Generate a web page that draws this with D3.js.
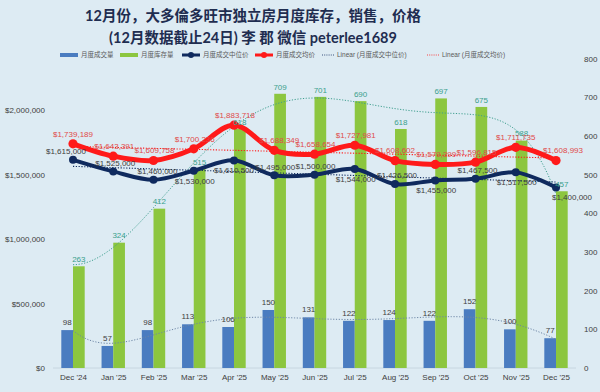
<!DOCTYPE html>
<html><head><meta charset="utf-8">
<script src="https://cdn.jsdelivr.net/npm/d3@7"></script>
<style>
body{margin:0;background:#ddebf3;}
svg{display:block;}
</style></head>
<body>
<svg id="chart" width="600" height="392"></svg>
<script>
// ---------- DATA ----------
const categories = ["Dec '24","Jan '25","Feb '25","Mar '25","Apr '25","May '25","Jun '25","Jul '25","Aug '25","Sep '25","Oct '25","Nov '25","Dec '25"];
const salesVolume = [98,57,98,113,106,150,131,122,124,122,152,100,77];
const inventory = [263,324,412,515,618,709,701,690,618,697,675,588,457];
const medianPrice = [1615000,1525000,1460000,1530000,1610500,1495000,1500000,1544000,1426500,1455000,1467500,1517500,1400000];
const avgPrice = [1739189,1643391,1609758,1700236,1883718,1688349,1658654,1727981,1608602,1579399,1596815,1711735,1608993];
const leftTicks = [0,500000,1000000,1500000,2000000];
const rightTicks = [0,100,200,300,400,500,600,700,800];
const titleLines = ["12月份，大多倫多旺市独立房月度库存，销售，价格","(12月数据截止24日) 李 郡  微信 peterlee1689"];
const legendLabels = ["月度成交量","月度库存量","月度成交中位价","月度成交均价","Linear (月度成交中位价)","Linear (月度成交均价)"];

// ---------- STYLE / LABEL PLACEMENT ----------
const medianLabelSide = ["above","above","above","below","below","above","above","below","above","below","above","below","below"];
const medianLabelDx = [-7,2,4,1,0,1,1,1,2,1,2,1,16];
const avgLabelDx = [0,1,1,1,1,5,1,1,0,1,1,0,7];

const C = {
  bg:"#ddebf3", blue:"#4a7cc0", green:"#8cc63f", navy:"#0f2a5e", red:"#ff1a1a",
  text:"#404040", title:"#1f2d50", invLabel:"#3a9f8c", avgLabel:"#e04a4a",
  invTrend:"#3f9f8f", salesTrend:"#6d86a6"
};
const FONT = "'Liberation Sans', 'Noto Sans CJK SC', sans-serif";
const CJK = "Lato, 'Noto Sans CJK SC', sans-serif";

const svg = d3.select("#chart");
svg.append("rect").attr("width",600).attr("height",392).attr("fill",C.bg);

// ---------- SCALES ----------
const x = d3.scalePoint().domain(categories).range([73,556]);
const xi = d3.scaleLinear().domain([0,categories.length-1]).range([73,556]);
const yL = d3.scaleLinear().domain([0,2400000]).range([368,58.6]);
const yR = d3.scaleLinear().domain([0,800]).range([368,58.6]);
const barW = 11.7;

// ---------- TITLE ----------
svg.append("g").selectAll("text").data(titleLines).join("text")
  .attr("x",253).attr("y",(d,i)=>21+i*22).attr("text-anchor","middle")
  .attr("font-family",CJK).attr("font-weight","bold").attr("font-size",14.5)
  .attr("fill",C.title).text(d=>d);

// ---------- AXES ----------
svg.append("line").attr("x1",53).attr("x2",576).attr("y1",368).attr("y2",368)
  .attr("stroke","#c3d1da").attr("stroke-width",0.8);

const gL = svg.append("g").attr("transform","translate(49,0)")
  .call(d3.axisLeft(yL).tickValues(leftTicks).tickSize(0).tickPadding(4)
    .tickFormat(d=>"$"+d3.format(",")(d)));
const gR = svg.append("g").attr("transform","translate(580,0)")
  .call(d3.axisRight(yR).tickValues(rightTicks).tickSize(0).tickPadding(4));
const gB = svg.append("g").attr("transform","translate(0,368)")
  .call(d3.axisBottom(x).tickSize(0).tickPadding(6));
[gL,gR,gB].forEach(g=>{
  g.select(".domain").remove();
  g.selectAll("text").attr("fill",C.text).attr("font-family",FONT).attr("font-size",8);
});

// ---------- BARS ----------
svg.append("g").selectAll("rect").data(salesVolume).join("rect")
  .attr("x",(d,i)=>x(categories[i])-barW).attr("width",barW)
  .attr("y",d=>yR(d)).attr("height",d=>yR(0)-yR(d)).attr("fill",C.blue);
svg.append("g").selectAll("rect").data(inventory).join("rect")
  .attr("x",(d,i)=>x(categories[i])).attr("width",barW)
  .attr("y",d=>yR(d)).attr("height",d=>yR(0)-yR(d)).attr("fill",C.green);

// ---------- TRENDLINES ----------
function polyfit(ys,deg){
  const n=ys.length, m=deg+1;
  const t=i=>(i-(n-1)/2)/((n-1)/2);
  const A=Array.from({length:m},()=>Array(m+1).fill(0));
  ys.forEach((y,i)=>{
    const tv=t(i);
    for(let r=0;r<m;r++){
      for(let c=0;c<m;c++) A[r][c]+=Math.pow(tv,r+c);
      A[r][m]+=y*Math.pow(tv,r);
    }
  });
  for(let col=0;col<m;col++){
    let p=col;
    for(let r=col+1;r<m;r++) if(Math.abs(A[r][col])>Math.abs(A[p][col])) p=r;
    [A[col],A[p]]=[A[p],A[col]];
    for(let r=0;r<m;r++){
      if(r===col) continue;
      const f=A[r][col]/A[col][col];
      for(let c=col;c<=m;c++) A[r][c]-=f*A[col][c];
    }
  }
  const coef=A.map((row,r)=>row[m]/row[r]);
  return i=>{const tv=t(i);return coef.reduce((s,c,k)=>s+c*Math.pow(tv,k),0);};
}
const samples = d3.range(0,categories.length-1+0.001,0.1);
function trend(values,deg,yScale,color,width){
  const f=polyfit(values,deg);
  svg.append("path").datum(samples)
    .attr("d",d3.line().x(s=>xi(s)).y(s=>yScale(f(s))))
    .attr("fill","none").attr("stroke",color).attr("stroke-width",width)
    .attr("stroke-dasharray","1.2,1.6");
}
trend(inventory,6,yR,C.invTrend,1);
trend(salesVolume,6,yR,C.salesTrend,1);
trend(medianPrice,1,yL,C.navy,1.1);
trend(avgPrice,1,yL,C.red,1.1);

// ---------- LINES ----------
function series(values,color,w,r){
  svg.append("path").datum(values)
    .attr("d",d3.line().x((d,i)=>x(categories[i])).y(d=>yL(d)).curve(d3.curveCatmullRom.alpha(0.5)))
    .attr("fill","none").attr("stroke",color).attr("stroke-width",w).attr("stroke-linejoin","round");
  svg.append("g").selectAll("circle").data(values).join("circle")
    .attr("cx",(d,i)=>x(categories[i])).attr("cy",d=>yL(d)).attr("r",r).attr("fill",color);
}
series(medianPrice,C.navy,4,4);
series(avgPrice,C.red,5,4.6);

// ---------- DATA LABELS ----------
const fmt = d=>"$"+d3.format(",")(d);
svg.append("g").selectAll("text").data(salesVolume).join("text")
  .attr("x",(d,i)=>x(categories[i])-barW/2).attr("y",d=>yR(d)-8).attr("dy","0.35em")
  .attr("text-anchor","middle").attr("font-family",FONT).attr("font-size",8)
  .attr("fill",C.text).text(d=>d);
svg.append("g").selectAll("text").data(inventory).join("text")
  .attr("x",(d,i)=>x(categories[i])+barW/2).attr("y",d=>yR(d)-7).attr("dy","0.35em")
  .attr("text-anchor","middle").attr("font-family",FONT).attr("font-size",8)
  .attr("fill",C.invLabel).text(d=>d);
svg.append("g").selectAll("text").data(medianPrice).join("text")
  .attr("x",(d,i)=>x(categories[i])+medianLabelDx[i])
  .attr("y",(d,i)=>yL(d)+(medianLabelSide[i]==="above"?-8.5:10)).attr("dy","0.35em")
  .attr("text-anchor","middle").attr("font-family",FONT).attr("font-size",8)
  .attr("fill",C.text).text(fmt);
svg.append("g").selectAll("text").data(avgPrice).join("text")
  .attr("x",(d,i)=>x(categories[i])+avgLabelDx[i]).attr("y",d=>yL(d)-10).attr("dy","0.35em")
  .attr("text-anchor","middle").attr("font-family",FONT).attr("font-size",8)
  .attr("fill",C.avgLabel).text(fmt);

// ---------- LEGEND ----------
const legendItems = [
  {x:60, type:"rect", color:C.blue},
  {x:120,type:"rect", color:C.green},
  {x:182,type:"line", color:C.navy},
  {x:255,type:"line", color:C.red},
  {x:322,type:"dot",  color:C.navy},
  {x:427,type:"dot",  color:C.red}
];
const lg = svg.append("g");
legendItems.forEach((it,i)=>{
  const ly=55, w = it.type==="dot"?12:18;
  if(it.type==="rect"){
    lg.append("rect").attr("x",it.x).attr("y",ly-2).attr("width",w).attr("height",4).attr("fill",it.color);
  } else if(it.type==="line"){
    lg.append("line").attr("x1",it.x).attr("x2",it.x+w).attr("y1",ly).attr("y2",ly).attr("stroke",it.color).attr("stroke-width",3);
    lg.append("circle").attr("cx",it.x+w/2).attr("cy",ly).attr("r",3).attr("fill",it.color);
  } else {
    lg.append("line").attr("x1",it.x).attr("x2",it.x+w).attr("y1",ly).attr("y2",ly).attr("stroke",it.color).attr("stroke-width",0.8).attr("stroke-dasharray","1,1.2");
  }
  lg.append("text").attr("x",it.x+w+3).attr("y",ly).attr("dy","0.35em")
    .attr("font-family",FONT).attr("font-size",6.5).attr("fill","#595959").text(legendLabels[i]);
});
</script>
</body></html>
